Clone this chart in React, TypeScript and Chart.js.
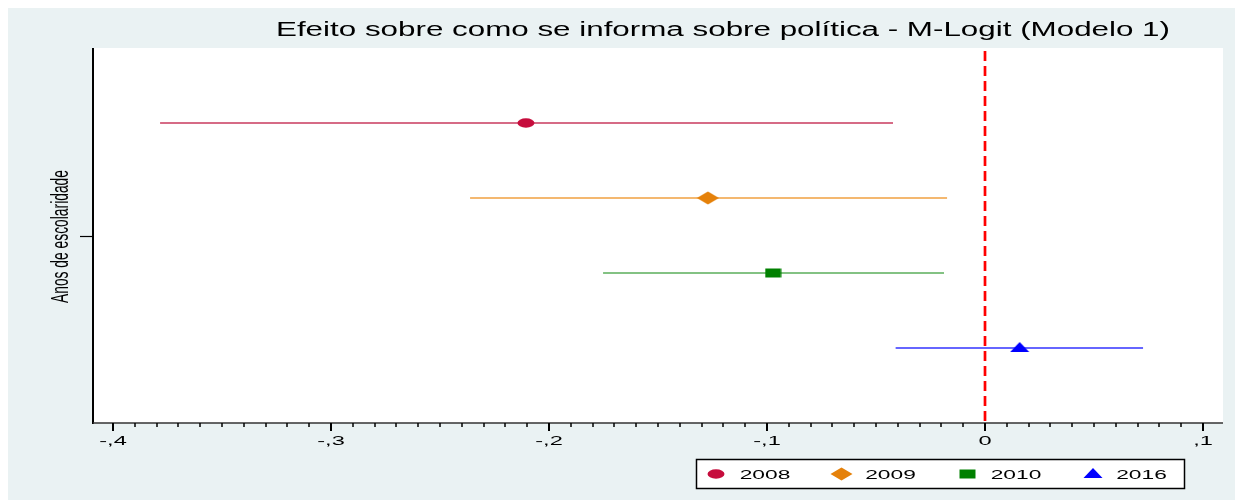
import React, { useEffect, useRef } from "react";
import { Chart, registerables } from "chart.js";

Chart.register(...registerables);

// Coefficients of "Anos de escolaridade" by survey year, with 95% CIs
const years = ["2008", "2009", "2010", "2016"];
const estimates = [-0.2106, -0.1271, -0.0972, 0.0159];
const lowerCI = [-0.3784, -0.2362, -0.1752, -0.041];
const upperCI = [-0.0422, -0.0174, -0.0188, 0.0725];
const rowPositions = [1, 2, 3, 4];
const xTickValues = [-0.4, -0.3, -0.2, -0.1, 0, 0.1];
const xTickLabels = ["-,4", "-,3", "-,2", "-,1", "0", ",1"];
const markerKinds = ["ellipse", "diamond", "square", "triangle"];
const markerColors = ["#C60C3C", "#E5810A", "#008000", "#0000FF"];
const lineColors = ["#C93A5E", "#F0A040", "#5AAE5A", "#3333FF"];
const titleText = "Efeito sobre como se informa sobre política - M-Logit (Modelo 1)";
const yAxisTitle = "Anos de escolaridade";
const yTickValue = 2.5;

const BG = "#EAF2F3";
const FONT = '"Liberation Sans", Arial, Helvetica, sans-serif';
const TEXT_STRETCH = 1.75;

function makeMarker(kind: string, color: string): HTMLCanvasElement {
  const c = document.createElement("canvas");
  let w = 18, h = 10;
  if (kind === "diamond") { w = 23; h = 14; }
  if (kind === "square") { w = 17; h = 10; }
  if (kind === "triangle") { w = 20; h = 14; }
  c.width = w;
  c.height = h;
  const ctx = c.getContext("2d")!;
  ctx.fillStyle = color;
  ctx.beginPath();
  if (kind === "ellipse") {
    ctx.ellipse(w / 2, h / 2, 8.5, 4.7, 0, 0, Math.PI * 2);
  } else if (kind === "diamond") {
    ctx.moveTo(0.5, h / 2);
    ctx.lineTo(w / 2, 0.5);
    ctx.lineTo(w - 0.5, h / 2);
    ctx.lineTo(w / 2, h - 0.5);
    ctx.closePath();
  } else if (kind === "square") {
    ctx.rect(0.5, 0.5, w - 1, h - 1);
  } else {
    ctx.moveTo(w / 2, 1);
    ctx.lineTo(w - 0.5, 11);
    ctx.lineTo(0.5, 11);
    ctx.closePath();
  }
  ctx.fill();
  return c;
}

function stretchedText(
  ctx: CanvasRenderingContext2D,
  text: string,
  cx: number,
  baseline: number,
  px: number,
  sx: number
) {
  ctx.save();
  ctx.font = `${px}px ${FONT}`;
  ctx.textAlign = "center";
  ctx.textBaseline = "alphabetic";
  ctx.fillStyle = "#000";
  ctx.translate(cx, baseline);
  ctx.scale(sx, 1);
  ctx.fillText(text, 0, 0);
  ctx.restore();
}

export default function App() {
  const canvasRef = useRef<HTMLCanvasElement | null>(null);

  useEffect(() => {
    document.documentElement.style.overflow = "hidden";
    document.body.style.overflow = "hidden";
    const canvas = canvasRef.current;
    if (!canvas) return;

    const markers = markerKinds.map((k, i) => makeMarker(k, markerColors[i]));

    const ciSets = years.map((y, i) => ({
      label: `ci-${y}`,
      data: [
        { x: lowerCI[i], y: rowPositions[i] },
        { x: upperCI[i], y: rowPositions[i] },
      ],
      showLine: true,
      borderColor: lineColors[i],
      borderWidth: 1.5,
      pointRadius: 0,
      order: 2,
    }));

    const zeroLine = {
      label: "zero",
      data: [
        { x: 0, y: 0 },
        { x: 0, y: 5 },
      ],
      showLine: true,
      borderColor: "#FF0000",
      borderWidth: 2.7,
      borderDash: [10, 5],
      borderDashOffset: -3,
      pointRadius: 0,
      order: 1,
    };

    const pointSets = years.map((y, i) => ({
      label: y,
      data: [{ x: estimates[i], y: rowPositions[i] }],
      pointStyle: markers[i],
      pointRadius: 6,
      backgroundColor: markerColors[i],
      borderColor: markerColors[i],
      order: 0,
    }));

    const backgroundPlugin = {
      id: "bg",
      beforeDraw(chart: any) {
        const { ctx, chartArea: a } = chart;
        ctx.save();
        ctx.fillStyle = BG;
        ctx.fillRect(0, 0, chart.width, chart.height);
        ctx.fillStyle = "#FFFFFF";
        ctx.fillRect(a.left, a.top, a.right - a.left, a.bottom - a.top);
        ctx.restore();
      },
    };

    const decorPlugin = {
      id: "decor",
      afterDraw(chart: any) {
        const { ctx, chartArea: a } = chart;
        const xs = chart.scales.x;
        const ys = chart.scales.y;
        ctx.save();

        // axis lines
        ctx.strokeStyle = "#000";
        ctx.lineWidth = 2;
        ctx.beginPath();
        ctx.moveTo(a.left, a.top);
        ctx.lineTo(a.left, a.bottom + 1);
        ctx.stroke();
        ctx.strokeStyle = "#333";
        ctx.lineWidth = 1.5;
        ctx.beginPath();
        ctx.moveTo(a.left, a.bottom);
        ctx.lineTo(a.right, a.bottom);
        ctx.stroke();

        // minor ticks every 0,01
        ctx.strokeStyle = "#000";
        ctx.lineWidth = 1.5;
        for (let k = -40; k <= 10; k++) {
          if (k % 10 === 0) continue;
          const px = Math.round(xs.getPixelForValue(k / 100));
          ctx.beginPath();
          ctx.moveTo(px, a.bottom);
          ctx.lineTo(px, a.bottom + 4);
          ctx.stroke();
        }
        // major ticks + labels
        ctx.lineWidth = 2;
        xTickValues.forEach((v, i) => {
          const px = Math.round(xs.getPixelForValue(v));
          ctx.beginPath();
          ctx.moveTo(px, a.bottom);
          ctx.lineTo(px, a.bottom + 8);
          ctx.stroke();
          stretchedText(ctx, xTickLabels[i], px, a.bottom + 22, 13.5, TEXT_STRETCH);
        });

        // y tick
        const yPx = Math.round(ys.getPixelForValue(yTickValue)) + 0.5;
        ctx.lineWidth = 1.2;
        ctx.beginPath();
        ctx.moveTo(a.left - 13, yPx);
        ctx.lineTo(a.left, yPx);
        ctx.stroke();

        // y-axis title, rotated
        ctx.save();
        ctx.font = `13.5px ${FONT}`;
        const along = 133 / ctx.measureText(yAxisTitle).width;
        ctx.translate(a.left - 25, yPx);
        ctx.rotate(-Math.PI / 2);
        ctx.scale(along, 1.72);
        ctx.textAlign = "center";
        ctx.textBaseline = "alphabetic";
        ctx.fillStyle = "#000";
        ctx.fillText(yAxisTitle, 0, 0);
        ctx.restore();

        // title
        ctx.save();
        ctx.font = `19.5px ${FONT}`;
        const tsx = 894 / ctx.measureText(titleText).width;
        ctx.restore();
        stretchedText(ctx, titleText, 715, 27.5, 19.5, tsx);

        // legend
        const lx = 688, ly = 451, lw = 489, lh = 30;
        ctx.fillStyle = "#FFFFFF";
        ctx.fillRect(lx, ly, lw, lh);
        ctx.strokeStyle = "#000";
        ctx.lineWidth = 1.5;
        ctx.strokeRect(lx + 0.5, ly + 0.5, lw - 1, lh - 1);
        const itemStep = 125.5;
        years.forEach((y, i) => {
          const mx = lx + 20 + i * itemStep;
          const cy = ly + 15;
          const m = markers[i];
          ctx.drawImage(m, Math.round(mx - m.width / 2), Math.round(cy - m.height / 2));
          stretchedText(ctx, y, mx + 49, ly + 19.5, 13, TEXT_STRETCH);
        });

        ctx.restore();
      },
    };

    const chart = new Chart(canvas, {
      type: "scatter",
      data: { datasets: [...pointSets, zeroLine, ...ciSets] as any },
      options: {
        animation: false,
        responsive: false,
        devicePixelRatio: 1,
        events: [],
        layout: { padding: { left: 85, top: 40, right: 20, bottom: 77 } },
        plugins: {
          legend: { display: false },
          title: { display: false },
          tooltip: { enabled: false },
        },
        scales: {
          x: { type: "linear", display: false, min: -0.40917, max: 0.10917 },
          y: { type: "linear", display: false, min: 0, max: 5, reverse: true },
        },
      },
      plugins: [backgroundPlugin, decorPlugin],
    });

    return () => chart.destroy();
  }, []);

  return (
    <div style={{ width: 1235, height: 492 }}>
      <canvas ref={canvasRef} width={1235} height={492} style={{ display: "block" }} />
    </div>
  );
}
